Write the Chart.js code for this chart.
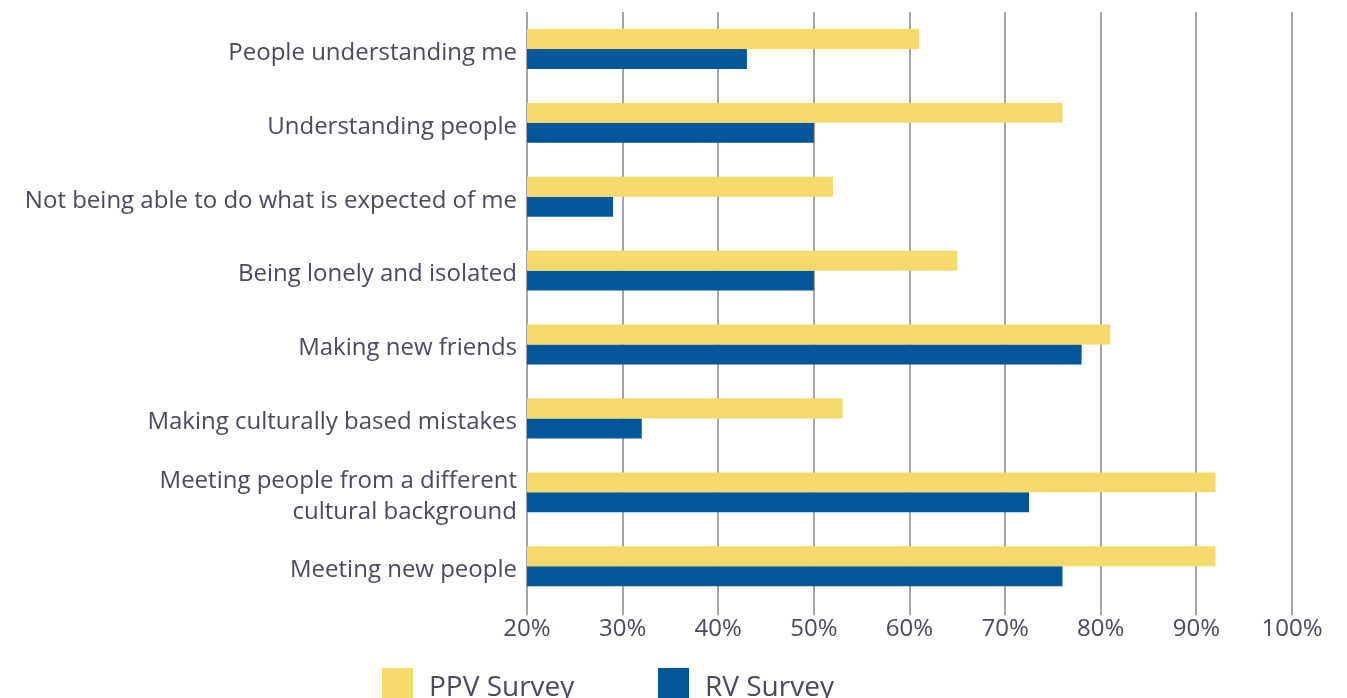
<!DOCTYPE html>
<html>
<head>
<meta charset="utf-8">
<script src="https://cdn.jsdelivr.net/npm/chart.js@4.4.1/dist/chart.umd.min.js"></script>
<style>
  html, body { margin: 0; padding: 0; background: #fff; overflow: hidden; }
  #wrap { position: relative; width: 1347px; height: 698px; }
  .legend { position: absolute; top: 668px; display: flex; align-items: flex-start;
    font-family: "Open Sans", sans-serif; font-size: 28px; color: #4a495e; line-height: 34px; }
  .legend span.box { display: inline-block; width: 31px; height: 31px; margin-right: 16px; }
</style>
</head>
<body>
<div id="wrap">
  <canvas id="chart" width="1347" height="698"></canvas>
  <div class="legend" style="left:382px"><span class="box" style="background:#f5da6b"></span>PPV Survey</div>
  <div class="legend" style="left:658px"><span class="box" style="background:#02579a"></span>RV Survey</div>
</div>
<script>
const categories = [
  'People understanding me',
  'Understanding people',
  'Not being able to do what is expected of me',
  'Being lonely and isolated',
  'Making new friends',
  'Making culturally based mistakes',
  ['Meeting people from a different', 'cultural background'],
  'Meeting new people'
];
const ppvSurvey = [61, 76, 52, 65, 81, 53, 92, 92];
const rvSurvey = [43, 50, 29, 50, 78, 32, 72.5, 76];

const textColor = '#4a495e';
const gridColor = '#a3a2b0';

new Chart(document.getElementById('chart'), {
  type: 'bar',
  data: {
    labels: categories,
    datasets: [
      { label: 'PPV Survey', data: ppvSurvey, backgroundColor: '#f5da6b' },
      { label: 'RV Survey', data: rvSurvey, backgroundColor: '#02579a' }
    ]
  },
  options: {
    indexAxis: 'y',
    responsive: false,
    animation: false,
    layout: { padding: { top: 12, right: 55, bottom: 54, left: 0 } },
    datasets: { bar: { categoryPercentage: 0.54, barPercentage: 1.0 } },
    plugins: { legend: { display: false }, tooltip: { enabled: false } },
    scales: {
      x: {
        min: 20,
        max: 100,
        ticks: {
          stepSize: 10,
          color: textColor,
          font: { family: 'Open Sans', size: 24 },
          padding: 0,
          callback: v => v + '%'
        },
        grid: { color: gridColor, lineWidth: 2, tickLength: 12, tickColor: gridColor },
        border: { display: false }
      },
      y: {
        // fixed label column; no extra room above/below for label overhang
        afterFit: scale => {
          scale.width = 527;
          scale.paddingTop = 0;
          scale.paddingBottom = 0;
        },
        ticks: {
          color: textColor,
          font: { family: 'Open Sans', size: 24, lineHeight: 1.3 },
          padding: 2,
          labelOffset: 4
        },
        grid: { display: false },
        border: { display: false }
      }
    }
  }
});
</script>
</body>
</html>
